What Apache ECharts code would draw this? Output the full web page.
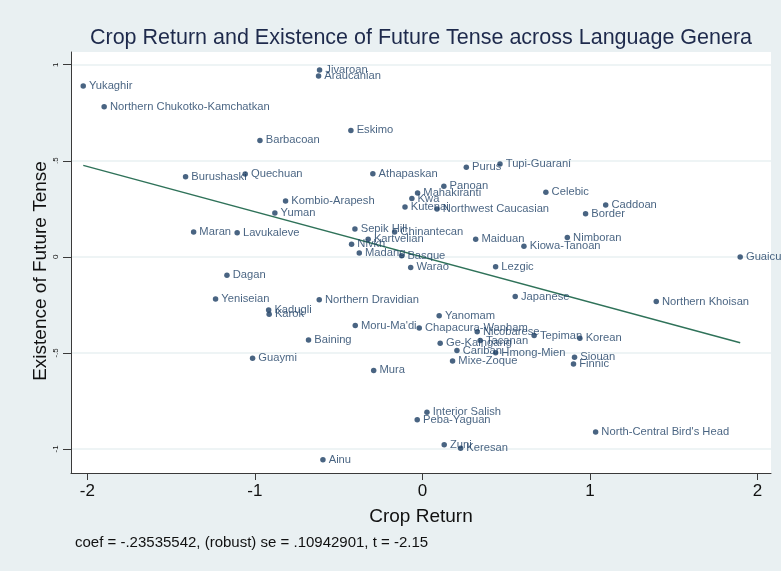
<!DOCTYPE html>
<html>
<head>
<meta charset="utf-8">
<script src="https://cdn.jsdelivr.net/npm/echarts@6/dist/echarts.min.js"></script>
<style>html,body{margin:0;padding:0;background:#e9f0f2;}#c{width:781px;height:571px;}</style>
</head>
<body>
<div id="c"></div>
<script>
var names = ["Yukaghir","Northern Chukotko-Kamchatkan","Jivaroan","Araucanian","Barbacoan","Eskimo","Burushaski","Quechuan","Kombio-Arapesh","Yuman","Maran","Lavukaleve","Athapaskan","Purus","Tupi-Guaraní","Panoan","Mahakiranti","Kwa","Kutenai","Northwest Caucasian","Celebic","Caddoan","Border","Sepik Hill","Chinantecan","Kartvelian","Maiduan","Nimboran","Kiowa-Tanoan","Nivkh","Madang","Basque","Warao","Guaicuru","Lezgic","Japanese","Northern Khoisan","Northern Dravidian","Yanomam","Moru-Ma'di","Chapacura-Wanham","Nicobarese","Tepiman","Korean","Tacanan","Ge-Kaingang","Cariban","Hmong-Mien","Siouan","Finnic","Mixe-Zoque","Mura","Baining","Dagan","Yeniseian","Kadugli","Karok","Guaymi","Interior Salish","Peba-Yaguan","North-Central Bird's Head","Zuni","Keresan","Ainu"];
var cropReturn = [-2.025,-1.900,-0.614,-0.620,-0.970,-0.427,-1.414,-1.058,-0.817,-0.881,-1.366,-1.106,-0.296,0.262,0.463,0.128,-0.029,-0.063,-0.104,0.087,0.737,1.094,0.974,-0.403,-0.166,-0.324,0.318,0.865,0.606,-0.423,-0.377,-0.124,-0.070,1.897,0.437,0.554,1.396,-0.616,0.100,-0.401,-0.019,0.327,0.667,0.940,0.345,0.106,0.206,0.437,0.908,0.902,0.180,-0.291,-0.680,-1.167,-1.235,-0.918,-0.915,-1.014,0.027,-0.031,1.034,0.130,0.228,-0.594];
var futureTense = [0.889,0.781,0.972,0.941,0.606,0.658,0.417,0.431,0.290,0.228,0.129,0.125,0.432,0.466,0.483,0.367,0.332,0.304,0.259,0.249,0.336,0.270,0.224,0.145,0.129,0.091,0.091,0.100,0.055,0.066,0.020,0.006,-0.055,-0.001,-0.052,-0.206,-0.233,-0.223,-0.306,-0.357,-0.370,-0.390,-0.410,-0.424,-0.435,-0.450,-0.488,-0.499,-0.523,-0.558,-0.542,-0.591,-0.433,-0.096,-0.220,-0.277,-0.299,-0.528,-0.809,-0.848,-0.912,-0.978,-0.996,-1.056];
var fitX = [-2.025, 1.897];
var fitY = [0.476, -0.447];
var xTicks = [-2,-1,0,1,2];
var yTicks = [-1,-0.5,0,0.5,1];
var yTickLabels = ["-1","-.5","0",".5","1"];
var titleText = "Crop Return and Existence of Future Tense across Language Genera";
var xTitle = "Crop Return";
var yTitle = "Existence of Future Tense";
var noteText = "coef = -.23535542, (robust) se = .10942901, t = -2.15";

var pts = names.map(function(n,i){ return [cropReturn[i], futureTense[i], n]; });
var fit = fitX.map(function(x,i){ return [x, fitY[i]]; });
var FONT = "Liberation Sans, Arial, Helvetica, sans-serif";

var chart = echarts.init(document.getElementById('c'), null, {renderer:'canvas'});
chart.setOption({
  backgroundColor: '#e9f0f2',
  animation: false,
  grid: {left:71, right:10, top:52, bottom:98, show:true, backgroundColor:'#ffffff', borderWidth:0},
  xAxis: {
    type:'value', min:-2.098, max:2.081,
    axisLine:{show:true, onZero:false, lineStyle:{color:'#3a3a3a', width:1}},
    axisTick:{show:true, customValues:xTicks, length:7, lineStyle:{color:'#3a3a3a'}},
    axisLabel:{customValues:xTicks, fontSize:17, color:'#111', fontFamily:FONT, margin:10,
      formatter:function(v){return String(v);}},
    splitLine:{show:false}
  },
  yAxis: {
    type:'value', min:-1.125, max:1.066,
    axisLine:{show:true, onZero:false, lineStyle:{color:'#3a3a3a', width:1}},
    axisTick:{show:true, customValues:yTicks, length:8, lineStyle:{color:'#3a3a3a'}},
    axisLabel:{customValues:yTicks, fontSize:8, color:'#111', fontFamily:FONT, rotate:90, margin:11,
      formatter:function(v){ var i = yTicks.indexOf(v); return i>=0 ? yTickLabels[i] : ''; }},
    splitLine:{show:false}
  },
  series: [
    {type:'line', data:[], silent:true, z:0, zlevel:0,
      markLine:{silent:true, symbol:'none', z:0, label:{show:false}, animation:false,
        lineStyle:{color:'#e8f0f2', width:1.5, type:'solid'},
        data: yTicks.map(function(v){ return {yAxis:v}; })}},
    {type:'line', data:fit, showSymbol:false, symbol:'none', lineStyle:{color:'#2f7259', width:1.5}, z:3},
    {type:'scatter', data:pts, symbol:'circle', symbolSize:5.5, itemStyle:{color:'#1c3d63'}, z:4,
      label:{show:true, position:'right', distance:3, offset:[0,2.5], fontSize:11.2, color:'#1c3d63', fontFamily:FONT,
        formatter:function(p){return p.data[2];}},
      labelLayout:{hideOverlap:false}}
  ],
  graphic: [
    {type:'text', x:421, y:38, style:{text:titleText, font:'21.5px ' + FONT, fill:'#1e2a4c', align:'center', verticalAlign:'middle'}},
    {type:'text', x:421, y:517, style:{text:xTitle, font:'19px ' + FONT, fill:'#111', align:'center', verticalAlign:'middle'}},
    {type:'text', x:41, y:271, rotation:Math.PI/2, style:{text:yTitle, font:'19px ' + FONT, fill:'#111', align:'center', verticalAlign:'middle'}},
    {type:'text', x:75, y:543, style:{text:noteText, font:'15px ' + FONT, fill:'#111', align:'left', verticalAlign:'middle'}}
  ]
});
</script>
</body>
</html>
